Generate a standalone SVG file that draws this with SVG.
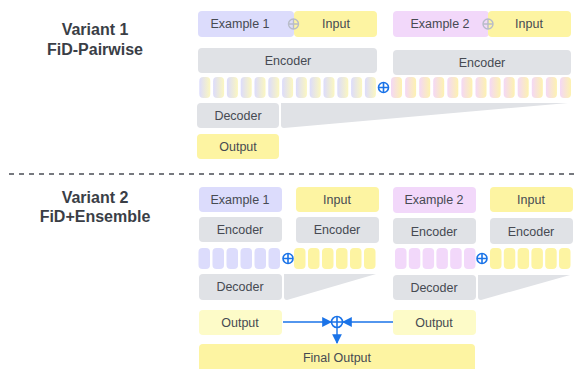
<svg xmlns="http://www.w3.org/2000/svg" width="580" height="369" viewBox="0 0 580 369">
<defs>
<style>
.t{font-family:"Liberation Sans",Arial,sans-serif;font-size:12.5px;fill:#464a52;text-anchor:middle;dominant-baseline:central}
.h{font-family:"Liberation Sans",Arial,sans-serif;font-size:16px;font-weight:bold;fill:#3a3e46;text-anchor:middle}
.g{fill:#e0e2e6}
.ex1{fill:#dcdcfc}
.ex2{fill:#f2d8fa}
.in{fill:#fdf4a2}
.out{fill:#fdfbc8}
.plus{fill:none;stroke:#1a73e8;stroke-width:1.6}
.plusg{fill:none;stroke:#b8bcc8;stroke-width:1.4}
.conn{stroke:#1a73e8;stroke-width:1.4;fill:none}
</style>
<linearGradient id="gl" x1="0" x2="1" y1="0" y2="0"><stop offset="0" stop-color="#dcdcfc"/><stop offset="1" stop-color="#fbf7c0"/></linearGradient>
<linearGradient id="gp" x1="0" x2="1" y1="0" y2="0"><stop offset="0" stop-color="#f4d8f6"/><stop offset="1" stop-color="#fdf2b0"/></linearGradient>
<marker id="ah" viewBox="0 0 10 10" refX="9" refY="5" markerWidth="7" markerHeight="7" orient="auto"><path d="M0,0L10,5L0,10z" fill="#1a73e8"/></marker>
</defs>

<g id="titles">
<text class="h" x="95" y="35">Variant 1</text>
<text class="h" x="95" y="55">FiD-Pairwise</text>
<text class="h" x="95" y="203">Variant 2</text>
<text class="h" x="95" y="222">FiD+Ensemble</text>
</g>

<line x1="9" y1="174" x2="575" y2="174" stroke="#4a4e56" stroke-width="1.5" stroke-dasharray="5,5"/>

<!-- Variant 1 -->
<g id="v1-example1"><rect class="ex1" x="198" y="11" width="96" height="26" rx="4"/><text class="t" x="240" y="24">Example 1</text></g>
<g id="v1-input1"><rect class="in" x="294" y="11" width="83" height="26" rx="4"/><text class="t" x="336" y="24">Input</text></g>
<g id="v1-plus1"><circle class="plusg" cx="293.5" cy="24" r="5"/><path class="plusg" d="M288.5,24h10M293.5,19v10"/></g>
<g id="v1-example2"><rect class="ex2" x="393" y="11" width="96" height="26" rx="4"/><text class="t" x="440" y="24">Example 2</text></g>
<g id="v1-input2"><rect class="in" x="488" y="11" width="83" height="26" rx="4"/><text class="t" x="529" y="24">Input</text></g>
<g id="v1-plus2"><circle class="plusg" cx="488" cy="24" r="5"/><path class="plusg" d="M483,24h10M488,19v10"/></g>
<g id="v1-encoder1"><rect class="g" x="198" y="48" width="179" height="25" rx="4"/><text class="t" x="288" y="61">Encoder</text></g>
<g id="v1-encoder2"><rect class="g" x="393" y="50" width="178" height="25" rx="4"/><text class="t" x="482" y="63">Encoder</text></g>
<g id="v1-tokens1" fill="url(#gl)">
<rect x="199.3" y="77" width="11" height="21" rx="4"/><rect x="213.1" y="77" width="11" height="21" rx="4"/><rect x="226.9" y="77" width="11" height="21" rx="4"/><rect x="240.7" y="77" width="11" height="21" rx="4"/><rect x="254.5" y="77" width="11" height="21" rx="4"/><rect x="268.3" y="77" width="11" height="21" rx="4"/><rect x="282.1" y="77" width="11" height="21" rx="4"/><rect x="295.9" y="77" width="11" height="21" rx="4"/><rect x="309.7" y="77" width="11" height="21" rx="4"/><rect x="323.5" y="77" width="11" height="21" rx="4"/><rect x="337.3" y="77" width="11" height="21" rx="4"/><rect x="351.1" y="77" width="11" height="21" rx="4"/><rect x="364.9" y="77" width="11" height="21" rx="4"/>
</g>
<g id="v1-plus3"><circle class="plus" cx="383.5" cy="87.5" r="5"/><path class="plus" d="M378.5,87.5h10M383.5,82.5v10"/></g>
<g id="v1-tokens2" fill="url(#gp)">
<rect x="391" y="77" width="11" height="21" rx="4"/><rect x="405.1" y="77" width="11" height="21" rx="4"/><rect x="419.2" y="77" width="11" height="21" rx="4"/><rect x="433.2" y="77" width="11" height="21" rx="4"/><rect x="447.3" y="77" width="11" height="21" rx="4"/><rect x="461.4" y="77" width="11" height="21" rx="4"/><rect x="475.5" y="77" width="11" height="21" rx="4"/><rect x="489.6" y="77" width="11" height="21" rx="4"/><rect x="503.7" y="77" width="11" height="21" rx="4"/><rect x="517.7" y="77" width="11" height="21" rx="4"/><rect x="531.8" y="77" width="11" height="21" rx="4"/><rect x="545.9" y="77" width="11" height="21" rx="4"/><rect x="560" y="77" width="11" height="21" rx="4"/>
</g>
<g id="v1-decoder"><rect class="g" x="197" y="103" width="82" height="25" rx="4"/><text class="t" x="238" y="116">Decoder</text><path class="g" d="M281,103H568L284,128Q281,128 281,125Z"/></g>
<g id="v1-output"><rect class="in" x="197" y="134" width="82" height="25" rx="4"/><text class="t" x="238" y="147">Output</text></g>

<!-- Variant 2 -->
<g id="v2-example1"><rect class="ex1" x="199" y="187" width="83" height="25" rx="4"/><text class="t" x="240" y="200">Example 1</text></g>
<g id="v2-encoder1"><rect class="g" x="199" y="217" width="83" height="25" rx="4"/><text class="t" x="240" y="230">Encoder</text></g>
<g id="v2-tokens1" fill="#dcdcfc">
<rect x="198.5" y="248" width="11.5" height="21" rx="4"/><rect x="212.5" y="248" width="11.5" height="21" rx="4"/><rect x="226.5" y="248" width="11.5" height="21" rx="4"/><rect x="240.5" y="248" width="11.5" height="21" rx="4"/><rect x="254.5" y="248" width="11.5" height="21" rx="4"/><rect x="268.5" y="248" width="11.5" height="21" rx="4"/>
</g>
<g id="v2-plus1"><circle class="plus" cx="288" cy="258.5" r="5"/><path class="plus" d="M283,258.5h10M288,253.5v10"/></g>
<g id="v2-input1"><rect class="in" x="296" y="187" width="83" height="25" rx="4"/><text class="t" x="337" y="200">Input</text></g>
<g id="v2-encoder2"><rect class="g" x="296" y="217" width="83" height="26" rx="4"/><text class="t" x="337" y="230">Encoder</text></g>
<g id="v2-tokens2" fill="#fdf4a2">
<rect x="294" y="248" width="11.5" height="21" rx="4"/><rect x="308" y="248" width="11.5" height="21" rx="4"/><rect x="322" y="248" width="11.5" height="21" rx="4"/><rect x="336" y="248" width="11.5" height="21" rx="4"/><rect x="350" y="248" width="11.5" height="21" rx="4"/><rect x="364" y="248" width="11.5" height="21" rx="4"/>
</g>
<g id="v2-decoder1"><rect class="g" x="199" y="274" width="83" height="26" rx="4"/><text class="t" x="240" y="287">Decoder</text><path class="g" d="M284,274H376L287,300Q284,300 284,297Z"/></g>
<g id="v2-output1"><rect class="out" x="199" y="310" width="83" height="25" rx="4"/><text class="t" x="240" y="323">Output</text></g>

<g id="v2-example2"><rect class="ex2" x="393" y="187" width="83" height="26" rx="4"/><text class="t" x="434" y="200">Example 2</text></g>
<g id="v2-encoder3"><rect class="g" x="393" y="218" width="83" height="26" rx="4"/><text class="t" x="434" y="232">Encoder</text></g>
<g id="v2-tokens3" fill="#f2d8fa">
<rect x="395" y="248" width="11.5" height="21" rx="4"/><rect x="408.8" y="248" width="11.5" height="21" rx="4"/><rect x="422.6" y="248" width="11.5" height="21" rx="4"/><rect x="436.4" y="248" width="11.5" height="21" rx="4"/><rect x="450.2" y="248" width="11.5" height="21" rx="4"/><rect x="464" y="248" width="11.5" height="21" rx="4"/>
</g>
<g id="v2-plus2"><circle class="plus" cx="482" cy="258.5" r="5"/><path class="plus" d="M477,258.5h10M482,253.5v10"/></g>
<g id="v2-input2"><rect class="in" x="490" y="187" width="83" height="25" rx="4"/><text class="t" x="531" y="200">Input</text></g>
<g id="v2-encoder4"><rect class="g" x="490" y="218" width="83" height="26" rx="4"/><text class="t" x="531" y="232">Encoder</text></g>
<g id="v2-tokens4" fill="#fdf4a2">
<rect x="490" y="248" width="11.5" height="21" rx="4"/><rect x="503.8" y="248" width="11.5" height="21" rx="4"/><rect x="517.6" y="248" width="11.5" height="21" rx="4"/><rect x="531.4" y="248" width="11.5" height="21" rx="4"/><rect x="545.2" y="248" width="11.5" height="21" rx="4"/><rect x="559" y="248" width="11.5" height="21" rx="4"/>
</g>
<g id="v2-decoder2"><rect class="g" x="393" y="275" width="83" height="25" rx="4"/><text class="t" x="434" y="288">Decoder</text><path class="g" d="M478,275H570L481,300Q478,300 478,297Z"/></g>
<g id="v2-output2"><rect class="out" x="393" y="310" width="83" height="25" rx="4"/><text class="t" x="434" y="323">Output</text></g>

<g id="v2-final"><rect class="in" x="199" y="344" width="276" height="30" rx="4"/><text class="t" x="337" y="358">Final Output</text></g>

<g id="connectors">
<line class="conn" x1="283" y1="322" x2="331" y2="322" marker-end="url(#ah)"/>
<line class="conn" x1="393" y1="322" x2="343" y2="322" marker-end="url(#ah)"/>
<line class="conn" x1="337" y1="327.5" x2="337" y2="343" marker-end="url(#ah)"/>
<circle class="plus" cx="337" cy="322" r="5.5"/><path class="plus" d="M331.5,322h11M337,316.5v11"/>
</g>
</svg>
